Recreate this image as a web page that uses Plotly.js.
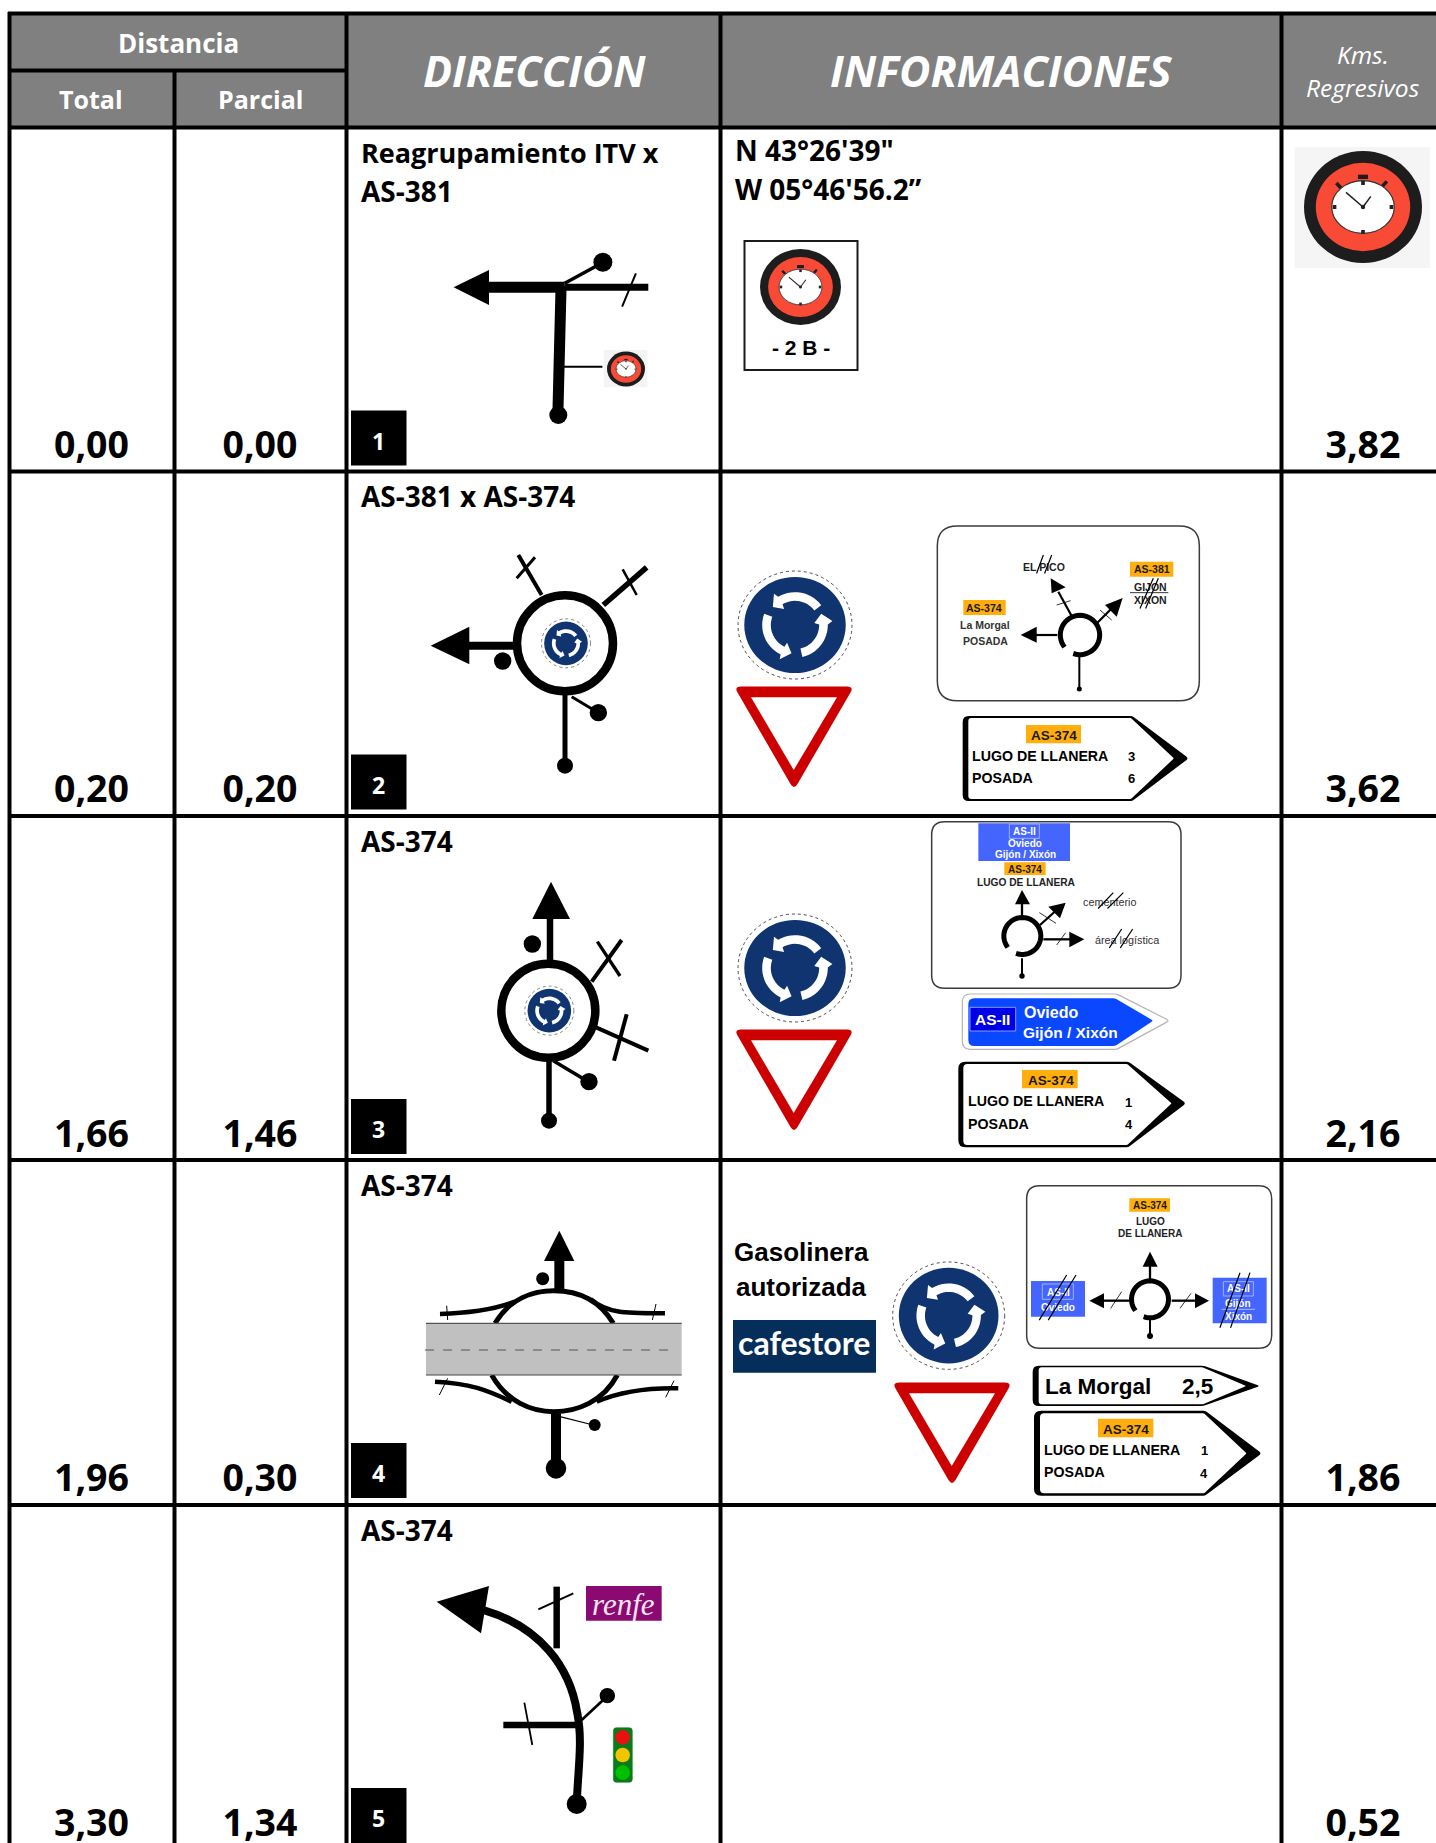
<!DOCTYPE html>
<html><head><meta charset="utf-8">
<script src="https://cdn.plot.ly/plotly-3.0.1.min.js"></script>
<style>html,body{margin:0;padding:0;background:#fff}#c{width:1436px;height:1843px}</style>
</head><body><div id="c"></div>
<script>
// ---------- table content ----------
const totals = ['0,00','0,20','1,66','1,96','3,30'];
const partials = ['0,00','0,20','1,46','0,30','1,34'];
const remaining = ['3,82','3,62','2,16','1,86','0,52'];
const stepNumbers = ['1','2','3','4','5'];
const directions = [['Reagrupamiento ITV x','AS-381'],['AS-381 x AS-374'],['AS-374'],['AS-374'],['AS-374']];
const coords = ['N 43°26\'39"','W 05°46\'56.2”'];
const headMain = ['DIRECCIÓN','INFORMACIONES'];
const headGroup = 'Distancia';
const headSub = ['Total','Parcial'];
const headKms = ['Kms.','Regresivos'];
const rowTops = [127.5,471.5,816,1160,1505];
const colLines = [9.5,174.5,346.5,720.5,1281.5];

// ---------- drawing helpers ----------
const shapes=[], ann=[], late=[];
const at=(ox,oy,sx=1/3,sy=1/3)=>(x,y)=>[ox+x*sx,oy+y*sy];
const base={xref:'x',yref:'y'};
function L(p,q,w,c='#000',dash){shapes.push({...base,type:'line',x0:p[0],y0:p[1],x1:q[0],y1:q[1],line:{color:c,width:w,dash:dash||'solid'}});}
function R(a,b,fill,stroke,w=1){shapes.push({...base,type:'rect',x0:a[0],y0:a[1],x1:b[0],y1:b[1],fillcolor:fill,line:{color:stroke||fill,width:stroke?w:0}});}
function E(cx,cy,rx,ry,fill,stroke,w=1,dash){shapes.push({...base,type:'circle',x0:cx-rx,y0:cy-ry,x1:cx+rx,y1:cy+ry,fillcolor:fill,line:{color:stroke||fill,width:stroke?w:0,dash:dash||'solid'}});}
function D(p,r,fill='#000'){E(p[0],p[1],r,r,fill);}
function rawPath(d,fill,stroke,w=0){shapes.push({...base,type:'path',path:d,fillcolor:fill||'rgba(0,0,0,0)',line:{color:stroke||'rgba(0,0,0,0)',width:stroke?w:0}});}
function P(pts,fill='#000'){rawPath('M'+pts.map(p=>p[0].toFixed(2)+','+p[1].toFixed(2)).join(' L')+' Z',fill);}
function open(pts,w,c='#000'){rawPath('M'+pts.map(p=>p[0].toFixed(2)+','+p[1].toFixed(2)).join(' L'),null,c,w);}
function curve(m,segs,w,c='#000'){
  let d='M'+segs[0][0][0]+','+segs[0][0][1];
  segs.slice(1).forEach(s=>{d+=' C'+s.map(q=>q[0]+','+q[1]).join(' ');});
  rawPath(d,null,c,w);
}
function roundPoly(pts,fill,stroke,w){
  const n=pts.length;let d='';
  pts.forEach((p,i)=>{
    const a=pts[(i+n-1)%n],b=pts[(i+1)%n],r=p[2]||0;
    const la=Math.hypot(a[0]-p[0],a[1]-p[1]),lb=Math.hypot(b[0]-p[0],b[1]-p[1]);
    const s=[p[0]+(a[0]-p[0])*r/la,p[1]+(a[1]-p[1])*r/la],e=[p[0]+(b[0]-p[0])*r/lb,p[1]+(b[1]-p[1])*r/lb];
    d+=(i?' L':'M')+s[0].toFixed(2)+','+s[1].toFixed(2)+' Q'+p[0].toFixed(2)+','+p[1].toFixed(2)+' '+e[0].toFixed(2)+','+e[1].toFixed(2);
  });
  rawPath(d+' Z',fill,stroke,w);
}
function panel(a,b,r,fill='#fff',stroke='#3c3c3c',w=1.5){
  roundPoly([[a[0],a[1],r],[b[0],a[1],r],[b[0],b[1],r],[a[0],b[1],r]],fill,stroke,w);
}
function T(p,text,size,o={}){
  ann.push({x:p[0],y:p[1],xref:'x',yref:'y',text,showarrow:false,xanchor:o.a||'center',yanchor:'middle',align:o.a||'center',borderpad:0,borderwidth:0,
    font:{family:o.f||'Liberation Sans',size,color:o.c||'#000',weight:o.n?400:700,style:o.i?'italic':'normal'}});
}
function S(p,q,w=1.2,c='#000'){
  late.push({x:q[0],y:q[1],ax:p[0],ay:p[1],axref:'x',ayref:'y',xref:'x',yref:'y',text:'',showarrow:true,arrowhead:0,arrowwidth:w,arrowcolor:c,standoff:0,startstandoff:0});
}
function ring(c,r,w,a0=218,a1=-112){
  const pts=[];for(let a=a0;a>=a1;a-=8){const t=a*Math.PI/180;pts.push([c[0]+r*Math.cos(t),c[1]-r*Math.sin(t)]);}
  open(pts,w);
}
function circleLine(c,r,w){E(c[0],c[1],r,r,'rgba(0,0,0,0)','#000',w);}
function arrowFill(c,r,w,a0,a1,head,color){
  const pt=(R,a)=>{const t=a*Math.PI/180;return [c[0]+R*Math.cos(t),c[1]-R*Math.sin(t)];};
  const out=[],inn=[];
  for(let a=a0;a<=a1;a+=6){out.push(pt(r+w/2,a));inn.unshift(pt(r-w/2,a));}
  P([...out,pt(r+w*1.05,a1),pt(r,a1+head),pt(r-w*1.05,a1),...inn],color);
}
function roundSign(cx,cy,rx,ry){
  const k=rx/56;
  E(cx,cy,rx,ry,'#fff','#222',0.8*Math.max(k,0.7),'dot');
  E(cx,cy,rx*0.89,ry*0.89,'#0f3470');
  [[37,124],[160,246],[283,366]].forEach(a=>arrowFill([cx,cy],28*k,8.5*k,a[0],a[1],17,'#fff'));
}
function yieldSign(x,y){
  roundPoly([[x-3,y-1.5,7],[x+117,y-1.5,7],[x+57,y+102,7]],'#cc0000');
  P([[x+14,y+9.3],[x+100,y+9.3],[x+56.7,y+82]],'#fff');
}
function watch(cx,cy,rx,ry){
  const k=rx/59, X=d=>cx+d*k/2.178*1, Y=d=>cy+d*(ry/56)/3;
  E(cx,cy,rx,ry,'#1d1d1d');
  E(cx,cy,rx*0.8,ry*0.79,'#f94a35');
  L([X(-58),Y(-72)],[X(-48),Y(-57)],3.5*k,'#1d1d1d');
  L([X(52),Y(-77)],[X(42),Y(-62)],3.5*k,'#1d1d1d');
  R([X(-11),Y(-97)],[X(11),Y(-84)],'#1d1d1d');
  E(cx,cy,rx*0.53,ry*0.47,'#fff','#333',Math.max(0.6,1.2*k));
  [[0,-72],[0,75],[-62,0],[62,0]].forEach(q=>R([X(q[0]-4),Y(q[1]-6)],[X(q[0]+4),Y(q[1]+6)],'#222'));
  L([cx,cy],[X(-37),Y(-44)],Math.max(0.7,1.5*k),'#222');
  L([cx,cy],[X(17),Y(-32)],Math.max(0.7,1.5*k),'#222');
  E(cx,cy,2.2*k,2.2*k,'#222');
}
function amber(m,a,b,txt,p,size){R(m(...a),m(...b),'#ffae0d');T(m(...p),txt,size,{c:'#1a1a1a'});}

// ---------- grid ----------
R([10,14],[1436,127],'#808080');
const HW=4;
L([8,13.5],[1436,13.5],HW);
colLines.forEach((x,i)=>{ if(i===1){L([x,70],[x,1843],HW);} else L([x,12],[x,1843],HW); });
L([8,70.5],[346,70.5],HW);
rowTops.forEach(y=>L([8,y],[1436,y],HW));

// ---------- header text ----------
const H='Open Sans';
T([178,43],headGroup,26,{f:H,c:'#fff'});
T([91,99],headSub[0],25,{f:H,c:'#fff'});
T([260,99],headSub[1],25,{f:H,c:'#fff'});
T([534.5,70.5],headMain[0],43,{f:H,c:'#fff',i:1});
T([1001,70.5],headMain[1],43,{f:H,c:'#fff',i:1});
T([1363,54],headKms[0],24.5,{f:'Open Sans',c:'#fff',i:1,n:1});
T([1363,87],headKms[1],24.5,{f:'Open Sans',c:'#fff',i:1,n:1});

// ---------- row labels ----------
directions.forEach((lines,i)=>{
  lines.forEach((t,j)=>T([361,rowTops[i]+24.5+j*38.5],t,t.startsWith('AS')?28:27,{f:H,a:'left'}));
  R([351,rowTops[i]+283],[406.5,rowTops[i]+338],'#000');
  T([378.5,rowTops[i]+313],stepNumbers[i],23,{f:H,c:'#fff'});
});
coords.forEach((t,i)=>T([735,150+i*39],t,28,{f:H,a:'left'}));

// ---------- row 1 ----------
{const m=at(0,0,1/2.178,1/3);
 L(m(1065,862),m(1230,862),11);L(m(1230,862),m(1412,862),7);
 P([m(988,862),m(1065,810),m(1065,915)]);
 L(m(1222,858),m(1215,1245),11);D(m(1216,1245),9);
 L(m(1225,1100),m(1312,1100),2);
 L(m(1230,850),m(1310,790),3.5);D(m(1313,787),9.5);
 L(m(1385,820),m(1355,920),2);
 R(m(1315,1050),m(1410,1162),'#f4f4f4');
 watch(626,369,19,17.5);
 R([1294.5,147],[1430,268],'#f5f5f5');
 watch(1363,207,59,56);
}
R([744.5,241],[857.5,370],'#fff','#1a1a1a',2);
watch(800.5,287,40.5,38);
T([800.5,347],'- 2 B -',21);

// ---------- row 2 ----------
{const m=at(350,480);
 circleLine(m(645,490),48,8.5);
 L(m(490,497),m(350,497),8);P([m(242,497),m(358,440),m(358,553)]);D(m(458,543),8.7);
 L(m(575,345),m(505,225),4);L(m(500,295),m(555,232),3);
 L(m(760,375),m(890,262),5.5);L(m(818,268),m(860,345),2.5);
 L(m(645,640),m(645,855),5);D(m(645,857),8);
 L(m(665,650),m(745,698),3);D(m(745,698),8.7);
 roundSign(...m(648,490),24.5,24.5);
}
roundSign(795,625,57,54);
yieldSign(737,688);
{const m=at(900,510);
 panel(m(112,48),m(898,572),20);
 ring(m(540,375),19.7,5);
 L(m(538,440),m(538,535),2);D(m(538,537),2.5);
 L(m(472,375),m(400,375),2.2);P([m(362,375),m(410,350),m(410,398)]);
 L(m(515,318),m(475,245),2.2);P([m(452,205),m(455,250),m(497,232)]);
 L(m(470,285),m(512,272),0.8);
 L(m(592,338),m(640,290),2.2);P([m(668,264),m(615,285),m(650,320)]);
 L(m(600,300),m(635,330),0.8);
 T(m(433,172),'EL PICO',10.5,{c:'#222'});S(m(408,195),m(430,135));S(m(432,195),m(455,135));
 amber(m,[690,155],[820,200],'AS-381',[755,178],10.5);
 T(m(750,230),'GIJON',10.5,{c:'#222'});T(m(750,270),'XIXON',10.5,{c:'#222'});L(m(690,248),m(805,248),0.8);
 S(m(718,300),m(760,205));S(m(735,300),m(775,205));
 amber(m,[190,270],[317,315],'AS-374',[253,295],10.5);
 T(m(255,344),'La Morgal',10.5,{c:'#333'});T(m(255,393),'POSADA',10.5,{c:'#333'});
 roundPoly([[188,618,6],[697,618,2],[866,745,3],[697,873,2],[188,873,6]].map(q=>[...m(q[0],q[1]),q[2]]),'#000');
 roundPoly([[205,624,3],[693,624,1],[822,745,1],[693,867,1],[205,867,3]].map(q=>[...m(q[0],q[1]),q[2]]),'#fff');
 amber(m,[378,645],[543,700],'AS-374',[463,676],13.5);
 T(m(215,737),'LUGO DE LLANERA',14.2,{a:'left'});T(m(215,803),'POSADA',14.2,{a:'left'});
 T(m(695,739),'3',13);T(m(695,806),'6',13);
}

// ---------- row 3 ----------
{const m=at(350,820);
 circleLine(m(595,572),47,8.5);
 L(m(600,425),m(600,290),6.5);P([m(603,185),m(547,297),m(660,297)]);D(m(547,372),8.7);
 L(m(725,485),m(815,360),4);L(m(742,365),m(810,468),3.3);
 L(m(738,622),m(895,692),4);L(m(830,583),m(792,722),4);
 L(m(597,715),m(597,900),5.5);D(m(597,902),8);
 L(m(610,722),m(715,785),3.5);D(m(717,785),8.7);
 roundSign(...m(598,572),24.5,24.5);
}
roundSign(795,968,57,54);
yieldSign(737,1031);
{const m=at(900,810);
 panel(m(95,35),m(843,535),13);
 R(m(235,40),m(510,153),'#4466ff');
 R(m(328,42),m(418,85),'rgba(0,0,0,0)','#b8c4ff',0.8);
 T(m(372,63),'AS-II',10,{c:'#fff'});T(m(374,101),'Oviedo',10,{c:'#fff'});T(m(376,134),'Gijón / Xixón',10,{c:'#fff'});
 amber(m,[313,157],[437,195],'AS-374',[375,177],10);
 T(m(378,217),'LUGO DE LLANERA',10.2,{c:'#222'});
 ring(m(367,378),18.5,5);
 L(m(366,445),m(366,497),2);D(m(366,498),2.7);
 L(m(366,320),m(366,280),2.3);P([m(366,240),m(345,283),m(390,283)]);
 L(m(420,345),m(470,300),2.3);P([m(497,278),m(445,290),m(480,325)]);L(m(418,308),m(468,340),0.8);
 L(m(430,388),m(510,388),2.3);P([m(553,388),m(508,365),m(508,412)]);L(m(470,405),m(497,368),0.8);
 T(m(628,275),'cementerio',10.8,{c:'#333',n:1});S(m(590,300),m(640,248));S(m(618,300),m(670,248));
 T(m(680,390),'área logística',10.8,{c:'#333',n:1});S(m(625,418),m(665,357));S(m(658,418),m(698,357));
 roundPoly([[187,552,8],[650,552,2],[808,632,3],[650,718,2],[187,718,8]].map(q=>[...m(q[0],q[1]),q[2]]),'#fff','#b5b5b5',1.2);
 roundPoly([[205,565,6],[645,565,2],[760,632,2],[645,708,2],[205,708,6]].map(q=>[...m(q[0],q[1]),q[2]]),'#0a48ff');
 R(m(210,592),m(347,663),'#0000e6','#a8b8ff',0.8);
 T(m(278,629),'AS-II',15.5,{c:'#fff'});
 T(m(373,606),'Oviedo',16,{c:'#fff',a:'left'});T(m(370,668),'Gijón / Xixón',15.5,{c:'#fff',a:'left'});
 roundPoly([[175,755,7],[685,755,2],[858,880,3],[685,1012,2],[175,1012,7]].map(q=>[...m(q[0],q[1]),q[2]]),'#000');
 roundPoly([[190,762,4],[682,762,1],[815,880,1],[682,1005,1],[190,1005,4]].map(q=>[...m(q[0],q[1]),q[2]]),'#fff');
 amber(m,[366,780],[533,835],'AS-374',[452,812],13.5);
 T(m(203,873),'LUGO DE LLANERA',14.2,{a:'left'});T(m(203,941),'POSADA',14.2,{a:'left'});
 T(m(686,876),'1',13);T(m(686,944),'4',13);
}

// ---------- row 4 ----------
{const m=at(400,1160);
 const pth=(pts,w)=>{const q=pts.map(p=>m(p[0],p[1]).map(v=>+v.toFixed(1)));curve(m,[[q[0]],[q[1],q[2],q[3]]],w);};
 pth([[285,490],[330,415],[400,392],[462,392]],5);
 pth([[462,392],[525,392],[595,415],[640,490]],5);
 pth([[275,645],[320,725],[395,755],[462,755]],5);
 pth([[462,755],[530,755],[610,725],[652,645]],5);
 R(m(78,490),m(845,645),'#c0c0c0');
 L(m(78,490),m(845,490),1.2,'#555');L(m(78,645),m(845,645),1.2,'#444');
 L(m(75,570),m(830,570),1.2,'#555','dash');
 pth([[120,462],[200,460],[280,450],[345,425]],4.5);
 pth([[572,418],[625,462],[680,460],[795,460]],4.5);
 pth([[105,665],[210,670],[260,690],[335,725]],4.5);
 pth([[590,725],[660,695],[740,683],[835,685]],4.5);
 L(m(140,437),m(143,480),1);L(m(768,432),m(757,480),1);L(m(143,655),m(118,705),1);L(m(822,662),m(797,712),1);
 L(m(478,395),m(478,295),10);P([m(478,212),m(432,303),m(523,303)]);D(m(428,356),6.5);
 L(m(468,760),m(468,920),10);D(m(468,925),10.3);
 L(m(480,770),m(580,795),1.2);D(m(584,795),6);
}
{const m=at(720,1160);
 T(m(243,277),'Gasolinera',26);T(m(243,382),'autorizada',26);
 R(m(39,480),m(468,638),'#052e5a');
 T(m(252,546),'cafestore',32,{f:'Lato',c:'#fff'});
 roundSign(...m(686,467),56,53.7);
 yieldSign(895,1384);
}
{const m=at(1010,1170);
 panel(m(50,47),m(785,535),13);
 amber(m,[358,85],[480,125],'AS-374',[420,105],10);
 T(m(420,154),'LUGO',10,{c:'#222'});T(m(420,190),'DE LLANERA',10,{c:'#222'});
 ring(m(420,388),18.5,5);
 L(m(420,450),m(420,495),2);D(m(420,498),3);
 L(m(420,330),m(420,285),2.3);P([m(420,245),m(398,290),m(443,290)]);
 L(m(365,392),m(275,392),2.3);P([m(238,392),m(282,370),m(282,415)]);L(m(302,415),m(335,365),0.8);
 L(m(485,392),m(555,392),2.3);P([m(597,392),m(555,370),m(555,415)]);L(m(510,415),m(543,370),0.8);
 R(m(63,333),m(225,440),'#4466ff');R(m(97,342),m(190,388),'rgba(0,0,0,0)','#b8c4ff',0.8);
 T(m(145,366),'AS-II',10,{c:'#fff'});T(m(145,413),'Oviedo',10,{c:'#fff'});
 S(m(85,455),m(170,315));S(m(112,455),m(198,315));
 R(m(608,323),m(770,460),'#4466ff');R(m(640,335),m(730,378),'rgba(0,0,0,0)','#b8c4ff',0.8);
 T(m(685,355),'AS-II',10,{c:'#fff'});T(m(685,400),'Gijón',10,{c:'#fff'});L(m(635,418),m(735,418),0.7,'#dde');T(m(685,438),'Xixón',10,{c:'#fff'});
 S(m(628,478),m(690,308));S(m(660,478),m(720,308));
 roundPoly([[68,587,6],[580,587,2],[750,648,3],[580,708,2],[68,708,6]].map(q=>[...m(q[0],q[1]),q[2]]),'#000');
 roundPoly([[86,592,3],[578,592,1],[708,648,1],[578,703,1],[86,703,3]].map(q=>[...m(q[0],q[1]),q[2]]),'#fff');
 T(m(105,648),'La Morgal',22.5,{a:'left',n:0});T(m(563,648),'2,5',22.5);
 roundPoly([[72,722,7],[585,722,2],[755,850,3],[585,977,2],[72,977,7]].map(q=>[...m(q[0],q[1]),q[2]]),'#000');
 roundPoly([[90,730,4],[582,730,1],[710,850,1],[582,970,1],[90,970,4]].map(q=>[...m(q[0],q[1]),q[2]]),'#fff');
 amber(m,[264,746],[430,802],'AS-374',[347,778],13.5);
 T(m(102,840),'LUGO DE LLANERA',14.2,{a:'left'});T(m(102,906),'POSADA',14.2,{a:'left'});
 T(m(583,842),'1',13);T(m(583,909),'4',13);
}

// ---------- row 5 ----------
{const m=at(340,1500);
 const q=[[710,910],[715,800],[728,720],[712,640],[690,500],[600,380],[430,330]].map(p=>m(p[0],p[1]).map(v=>+v.toFixed(1)));
 curve(m,[[q[0]],[q[1],q[2],q[3]],[q[4],q[5],q[6]]],8);
 P([m(290,305),m(447,258),m(423,400)]);D(m(710,912),10);
 L(m(650,260),m(650,445),6.5);L(m(595,328),m(700,280),2,'#000');
 L(m(490,675),m(710,675),6.5);L(m(553,608),m(577,735),1.8);
 L(m(725,660),m(800,590),2.7);D(m(802,587),7.7);
 panel(m(820,683),m(877,847),3,'#0a7a1a','#0a7a1a',0.5);
 D(m(848,712),7.3,'#e81010');D(m(848,765),7.3,'#f5c400');D(m(848,818),7.3,'#00c000');
 R(m(738,258),m(965,362),'#8a0a72');
 T(m(850,312),'renfe',31,{f:'Liberation Serif',c:'#f4e4f0',i:1,n:1});
}

// ---------- traces: distance columns ----------
const colX={total:91.5,partial:260,remain:1363};
const numFont={family:'Open Sans',size:37.5,color:'#000',weight:700};
const numY=rowTops.map(y=>y+321.5);
const mk=(x,t)=>({type:'scatter',mode:'text',x:numY.map(()=>x),y:numY,text:t,textposition:'middle center',textfont:numFont,cliponaxis:false,hoverinfo:'skip',showlegend:false});
const data=[mk(colX.total,totals),mk(colX.partial,partials),mk(colX.remain,remaining)];

Plotly.newPlot('c',data,{
  width:1436,height:1843,margin:{l:0,r:0,t:0,b:0,pad:0},
  paper_bgcolor:'#fff',plot_bgcolor:'#fff',showlegend:false,
  xaxis:{range:[0,1436],visible:false,fixedrange:true},
  yaxis:{range:[1843,0],visible:false,fixedrange:true},
  shapes,annotations:ann.concat(late)
},{staticPlot:true,displayModeBar:false});
</script></body></html>
